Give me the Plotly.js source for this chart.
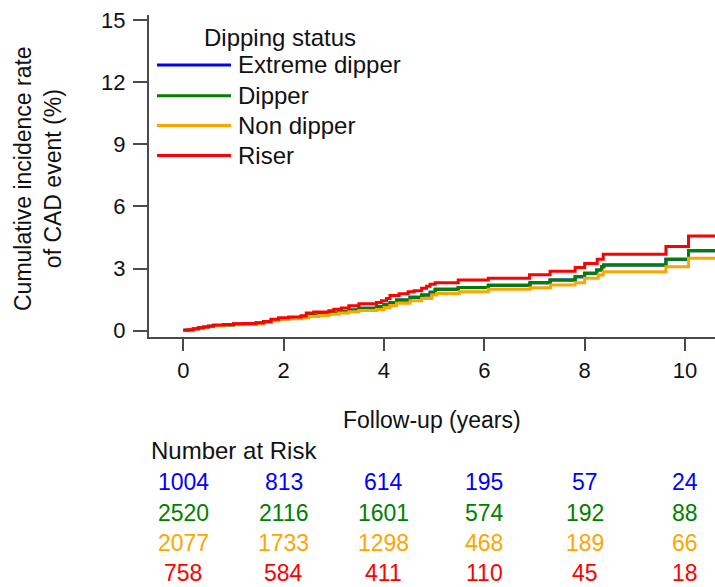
<!DOCTYPE html>
<html>
<head>
<meta charset="utf-8">
<script src="https://cdn.plot.ly/plotly-3.0.1.min.js"></script>
<style>html,body{margin:0;padding:0;background:#fff;}#chart{width:715px;height:587px;}</style>
</head>
<body>
<div id="chart"></div>
<script>
// ---- data ----
var groupNames = ["Extreme dipper", "Dipper", "Non dipper", "Riser"];
var groupColors = ["#0000FF", "#008000", "#FFA500", "#FF0000"];

var timeExtreme = [0, 0.1, 0.2, 0.3, 0.4, 0.5, 0.6, 0.8, 1.0, 1.2, 1.45, 1.6, 1.75, 1.9, 2.1, 2.35, 2.5, 2.7, 2.9, 3.1, 3.3, 3.5, 3.85, 4.0, 4.12, 4.25, 4.52, 4.75, 4.92, 5.02, 5.48, 6.08, 6.91, 7.31, 7.81, 8.0, 8.24, 8.34, 8.38, 9.62, 10.07, 10.6];
var cumExtreme  = [0.02, 0.05, 0.09, 0.13, 0.17, 0.21, 0.25, 0.28, 0.31, 0.33, 0.36, 0.42, 0.51, 0.58, 0.62, 0.68, 0.75, 0.8, 0.86, 0.93, 1.0, 1.08, 1.16, 1.25, 1.35, 1.48, 1.61, 1.72, 1.86, 2.0, 2.08, 2.2, 2.31, 2.45, 2.61, 2.77, 2.93, 3.09, 3.17, 3.45, 3.86, 3.86];

var timeDipper = [0, 0.1, 0.2, 0.3, 0.4, 0.5, 0.6, 0.8, 1.0, 1.2, 1.45, 1.6, 1.75, 1.9, 2.1, 2.35, 2.5, 2.7, 2.9, 3.1, 3.3, 3.5, 3.85, 4.0, 4.12, 4.25, 4.52, 4.75, 4.92, 5.02, 5.48, 6.08, 6.91, 7.31, 7.81, 8.0, 8.24, 8.34, 8.38, 9.62, 10.07, 10.6];
var cumDipper  = [0.02, 0.05, 0.09, 0.13, 0.17, 0.21, 0.25, 0.28, 0.31, 0.33, 0.36, 0.42, 0.51, 0.58, 0.62, 0.68, 0.75, 0.8, 0.86, 0.93, 1.0, 1.08, 1.16, 1.25, 1.35, 1.48, 1.61, 1.72, 1.86, 2.0, 2.08, 2.2, 2.31, 2.45, 2.61, 2.77, 2.93, 3.09, 3.17, 3.45, 3.86, 3.86];

var timeNonDipper = [0, 0.1, 0.2, 0.3, 0.4, 0.5, 0.6, 0.8, 1.0, 1.2, 1.45, 1.6, 1.75, 1.9, 2.1, 2.35, 2.5, 2.7, 2.9, 3.1, 3.3, 3.5, 3.85, 4.0, 4.12, 4.25, 4.52, 4.75, 4.95, 5.05, 5.5, 6.08, 6.91, 7.32, 7.81, 8.0, 8.27, 8.37, 9.62, 10.07, 10.6];
var cumNonDipper  = [0.01, 0.04, 0.08, 0.12, 0.16, 0.2, 0.24, 0.27, 0.29, 0.31, 0.34, 0.4, 0.48, 0.55, 0.58, 0.63, 0.68, 0.73, 0.79, 0.86, 0.92, 0.98, 1.02, 1.12, 1.22, 1.32, 1.45, 1.56, 1.72, 1.8, 1.88, 2.0, 2.07, 2.21, 2.32, 2.53, 2.69, 2.85, 3.09, 3.5, 3.5];

var timeRiser = [0, 0.1, 0.2, 0.3, 0.4, 0.5, 0.6, 0.8, 1.0, 1.2, 1.45, 1.6, 1.75, 1.9, 2.1, 2.35, 2.45, 2.6, 2.9, 3.0, 3.15, 3.3, 3.5, 3.85, 3.95, 4.05, 4.12, 4.3, 4.48, 4.6, 4.75, 4.85, 4.92, 5.02, 5.48, 6.08, 6.9, 7.31, 7.81, 8.0, 8.25, 8.37, 9.62, 10.07, 10.6];
var cumRiser  = [0.02, 0.05, 0.1, 0.14, 0.18, 0.22, 0.27, 0.3, 0.33, 0.35, 0.38, 0.45, 0.55, 0.62, 0.66, 0.72, 0.86, 0.9, 0.96, 1.04, 1.1, 1.2, 1.3, 1.36, 1.45, 1.55, 1.7, 1.78, 1.88, 1.93, 2.05, 2.15, 2.24, 2.32, 2.45, 2.53, 2.7, 2.87, 3.05, 3.25, 3.45, 3.69, 4.06, 4.57, 4.57];

var yTicks = [0, 3, 6, 9, 12, 15];
var xTicks = [0, 2, 4, 6, 8, 10];
var riskTimes = [0, 2, 4, 6, 8, 10];
var riskExtreme = [1004, 813, 614, 195, 57, 24];
var riskDipper = [2520, 2116, 1601, 574, 192, 88];
var riskNonDipper = [2077, 1733, 1298, 468, 189, 66];
var riskRiser = [758, 584, 411, 110, 45, 18];

var seriesT = [timeExtreme, timeDipper, timeNonDipper, timeRiser];
var seriesY = [cumExtreme, cumDipper, cumNonDipper, cumRiser];
var riskRows = [riskExtreme, riskDipper, riskNonDipper, riskRiser];

// ---- layout geometry (pixels) ----
var W = 715, H = 587;
var mL = 149, mR = 0, mT = 15, mB = 250;
var plotW = W - mL - mR, plotH = H - mT - mB;
function px2paperX(px) { return (px - mL) / plotW; }
function py2paperY(py) { return (H - mB - py) / plotH; }

var FONT = "Liberation Sans, Arial, sans-serif";
var TXT = "#111";

var traces = [];
for (var i = 0; i < groupNames.length; i++) {
  traces.push({
    type: "scatter", mode: "lines",
    x: seriesT[i], y: seriesY[i],
    name: groupNames[i], showlegend: false,
    line: {color: groupColors[i], width: 3, shape: "hv"},
    hoverinfo: "skip"
  });
}

var annotations = [];
var shapes = [];

// legend (drawn as key lines + labels)
var legendRowY = [65, 95.7, 125.5, 155.5];
for (var k = 0; k < groupNames.length; k++) {
  shapes.push({
    type: "line", xref: "paper", yref: "paper",
    x0: px2paperX(157), x1: px2paperX(231),
    y0: py2paperY(legendRowY[k]), y1: py2paperY(legendRowY[k]),
    line: {color: groupColors[k], width: 3}
  });
  annotations.push({
    xref: "paper", yref: "paper", x: px2paperX(236), y: py2paperY(legendRowY[k]),
    text: groupNames[k], showarrow: false, xanchor: "left", yanchor: "middle",
    font: {family: FONT, size: 24, color: TXT}
  });
}
annotations.push({
  xref: "paper", yref: "paper", x: px2paperX(280), y: py2paperY(37),
  text: "Dipping status", showarrow: false, xanchor: "center", yanchor: "middle",
  font: {family: FONT, size: 24, color: TXT}
});

// number at risk table
var rowY = [481.7, 512.7, 543.3, 573.3];
for (var r = 0; r < riskRows.length; r++) {
  for (var c = 0; c < riskTimes.length; c++) {
    annotations.push({
      xref: "x", yref: "paper", x: riskTimes[c], y: py2paperY(rowY[r]),
      text: String(riskRows[r][c]), showarrow: false,
      xanchor: "center", yanchor: "middle",
      font: {family: FONT, size: 23, color: groupColors[r]}
    });
  }
}
annotations.push({
  xref: "paper", yref: "paper", x: px2paperX(149), y: py2paperY(450),
  text: "Number at Risk", showarrow: false, xanchor: "left", yanchor: "middle",
  font: {family: FONT, size: 24, color: TXT}
});
annotations.push({
  xref: "paper", yref: "paper", x: 0.5, y: py2paperY(420),
  text: "Follow-up (years)", showarrow: false, xanchor: "center", yanchor: "middle",
  font: {family: FONT, size: 23, color: TXT}
});
annotations.push({
  xref: "paper", yref: "paper", x: px2paperX(38), y: py2paperY(179),
  text: "Cumulative incidence rate<br>of CAD event (%)", showarrow: false,
  textangle: -90, xanchor: "center", yanchor: "middle",
  font: {family: FONT, size: 23, color: TXT}
});

var layout = {
  width: W, height: H,
  margin: {l: mL, r: mR, t: mT, b: mB, pad: 0},
  paper_bgcolor: "#fff", plot_bgcolor: "#fff",
  showlegend: false,
  xaxis: {
    range: [(mL - 183.3) / 50.17, (W - 183.3) / 50.17],
    tickvals: xTicks, ticktext: xTicks.map(String),
    ticks: "outside", ticklen: 12, tickwidth: 2, tickcolor: "#4a4a4a",
    showline: true, linecolor: "#4a4a4a", linewidth: 2,
    showgrid: false, zeroline: false,
    ticklabelstandoff: 1,
    tickfont: {family: FONT, size: 22, color: TXT}
  },
  yaxis: {
    range: [(330.7 - (H - mB)) / 20.71, (330.7 - mT) / 20.71],
    tickvals: yTicks, ticktext: yTicks.map(String),
    ticks: "outside", ticklen: 14, tickwidth: 2, tickcolor: "#4a4a4a",
    showline: true, linecolor: "#4a4a4a", linewidth: 2,
    showgrid: false, zeroline: false,
    ticklabelstandoff: 3,
    tickfont: {family: FONT, size: 22, color: TXT}
  },
  shapes: shapes,
  annotations: annotations
};

Plotly.newPlot("chart", traces, layout, {displayModeBar: false, staticPlot: true});
</script>
</body>
</html>
